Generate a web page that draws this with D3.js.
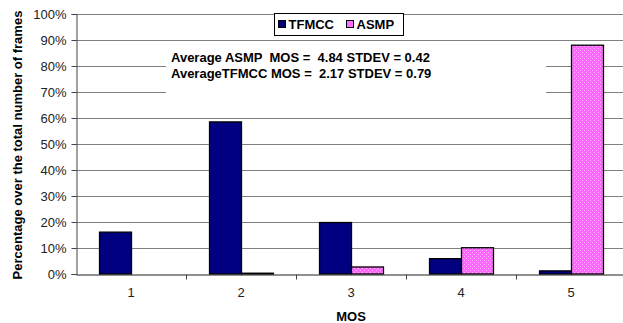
<!DOCTYPE html>
<html>
<head>
<meta charset="utf-8">
<script src="https://cdn.jsdelivr.net/npm/d3@7"></script>
<style>
  body { margin: 0; background: #fff; }
  svg { display: block; font-family: "Liberation Sans", Arial, sans-serif; }
</style>
</head>
<body>
<script>
var categories = ["1", "2", "3", "4", "5"];
var seriesNames = ["TFMCC", "ASMP"];
var tfmccValues = [16.1, 58.5, 19.8, 5.9, 1.2];
var asmpValues = [0, 0.3, 2.7, 10.1, 88.0];
var yTicks = [0, 10, 20, 30, 40, 50, 60, 70, 80, 90, 100];
var noteLines = ["Average ASMP  MOS =  4.84 STDEV = 0.42", "AverageTFMCC MOS =  2.17 STDEV = 0.79"];

var width = 623, height = 323;
var margin = {top: 14, right: -3, bottom: 49, left: 76};
var innerW = width - margin.left - margin.right;
var innerH = height - margin.top - margin.bottom;

var data = categories.map((c, i) => ({cat: c, TFMCC: tfmccValues[i], ASMP: asmpValues[i]}));

var svg = d3.select("body").append("svg")
    .attr("width", width)
    .attr("height", height);

var defs = svg.append("defs");
var pat = defs.append("pattern")
    .attr("id", "pinkdots")
    .attr("patternUnits", "userSpaceOnUse")
    .attr("width", 4).attr("height", 4);
pat.append("rect").attr("width", 4).attr("height", 4).attr("fill", "#ff66ff");
pat.append("rect").attr("x", 0).attr("y", 0).attr("width", 1).attr("height", 1).attr("fill", "#ffb8ff");
pat.append("rect").attr("x", 2).attr("y", 2).attr("width", 1).attr("height", 1).attr("fill", "#ffb8ff");

var colors = {TFMCC: "#000080", ASMP: "url(#pinkdots)"};

var g = svg.append("g")
    .attr("transform", "translate(" + margin.left + "," + margin.top + ")");

var x0 = d3.scaleBand().domain(categories).range([0, innerW]).padding(0);
var x1 = d3.scaleBand().domain(seriesNames).range([0, x0.bandwidth()])
    .paddingInner(0).paddingOuter(0.72);
var y = d3.scaleLinear().domain([0, 100]).range([innerH, 0]);

// gridlines
g.append("g").selectAll("line")
    .data(yTicks.filter(d => d > 0))
    .enter().append("line")
    .attr("x1", 0).attr("x2", innerW)
    .attr("y1", d => y(d) + 0.5).attr("y2", d => y(d) + 0.5)
    .attr("stroke", "#808080").attr("stroke-width", 1);

// white box behind the note text
g.append("rect")
    .attr("x", 90).attr("y", 28)
    .attr("width", 380).attr("height", 56)
    .attr("fill", "#fff");

// bars
var groups = g.append("g").selectAll("g")
    .data(data).enter().append("g")
    .attr("transform", d => "translate(" + x0(d.cat) + ",0)");

groups.selectAll("rect")
    .data(d => seriesNames.map(k => ({key: k, value: d[k]})))
    .enter().append("rect")
    .filter(d => d.value > 0)
    .attr("x", d => x1(d.key) + 0.5)
    .attr("y", d => y(d.value))
    .attr("width", x1.bandwidth())
    .attr("height", d => innerH - y(d.value))
    .attr("fill", d => colors[d.key])
    .attr("stroke", "#000")
    .attr("stroke-width", 1.3);

// y axis
var leftAxis = d3.axisLeft(y).tickValues(yTicks).tickFormat(d => d + "%").tickSize(5).tickPadding(5);
var ya = g.append("g").attr("transform", "translate(0.5,0)").call(leftAxis);
ya.select(".domain").attr("stroke", "#444");
ya.selectAll(".tick line").attr("stroke", "#444");
ya.selectAll("text").attr("font-size", "13px").attr("fill", "#222")
    .attr("font-family", "Liberation Sans, Arial, sans-serif");

// x axis
var bottomAxis = d3.axisBottom(x0).tickSize(0).tickPadding(13);
var xa = g.append("g").attr("transform", "translate(0," + (innerH + 0.5) + ")").call(bottomAxis);
xa.select(".domain").attr("stroke", "#222").attr("stroke-width", 1.2);
xa.selectAll("text").attr("font-size", "13px").attr("fill", "#222")
    .attr("font-family", "Liberation Sans, Arial, sans-serif");
xa.selectAll(".sep").data(categories.slice(1)).enter().append("line")
    .attr("class", "sep")
    .attr("x1", d => x0(d) + 0.5).attr("x2", d => x0(d) + 0.5)
    .attr("y1", 0).attr("y2", 5)
    .attr("stroke", "#444");

// axis titles
svg.append("text")
    .attr("transform", "translate(22," + (margin.top + innerH / 2 + 1) + ") rotate(-90)")
    .attr("text-anchor", "middle")
    .attr("font-size", "13px").attr("font-weight", "bold")
    .text("Percentage over the total number of frames");

svg.append("text")
    .attr("x", margin.left + x0("3") + x0.bandwidth() / 2)
    .attr("y", 321)
    .attr("text-anchor", "middle")
    .attr("font-size", "13px").attr("font-weight", "bold")
    .text("MOS");

// note text
g.selectAll(".note").data(noteLines).enter().append("text")
    .attr("class", "note")
    .attr("x", 95)
    .attr("y", (d, i) => 48 + i * 16)
    .attr("font-size", "13px").attr("font-weight", "bold")
    .style("white-space", "pre")
    .text(d => d);

// legend
var legend = svg.append("g").attr("transform", "translate(274.5,13.5)");
legend.append("rect").attr("width", 129).attr("height", 22)
    .attr("fill", "#fff").attr("stroke", "#000").attr("stroke-width", 1);
var items = legend.selectAll(".item").data(seriesNames).enter().append("g")
    .attr("transform", (d, i) => "translate(" + (i === 0 ? 4 : 72) + ",0)");
items.append("rect").attr("x", 0).attr("y", 7).attr("width", 7).attr("height", 7)
    .attr("fill", d => colors[d]).attr("stroke", "#000");
items.append("text").attr("x", 10).attr("y", 15.5)
    .attr("font-size", "13px").attr("font-weight", "bold")
    .text(d => d);
</script>
</body>
</html>
